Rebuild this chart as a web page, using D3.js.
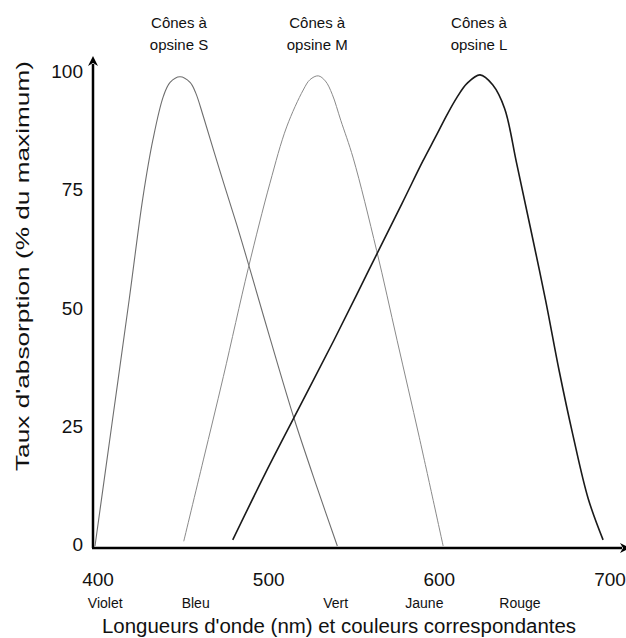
<!DOCTYPE html>
<html>
<head>
<meta charset="utf-8">
<script src="https://cdn.jsdelivr.net/npm/d3@7"></script>
<style>
  body { margin: 0; background: #fff; }
  text { font-family: "Liberation Sans", Arial, sans-serif; fill: #111; }
</style>
</head>
<body>
<svg id="chart" width="626" height="638"></svg>
<script>
// absorption curves: [wavelength nm, % of max]
var coneS = [
  [400, 0], [410, 26], [420, 52], [428, 73.5], [434, 86], [440, 95], [444, 98],
  [449.8, 99.2], [455.7, 98], [459, 95.8], [463.5, 90.8], [473, 79.5], [483, 68],
  [490, 59.5], [502.5, 44], [516.6, 27], [530, 12.5], [542, 0]
]
var coneM = [
  [452, 1], [463.5, 18.2], [475.2, 35.8], [489.8, 58.7], [502.5, 76.7], [512.3, 88.6],
  [522, 96.4], [526, 98.6], [530.8, 99.4], [535, 98.3], [539, 95.5], [544, 90],
  [551.3, 82], [565, 62.5], [577, 43.5], [590, 23], [604, 0]
]
var coneL = [
  [480.7, 1.3], [500, 15.5], [520, 29.5], [540, 43.5], [560, 58], [580, 72.5],
  [592, 81.3], [600, 86.8], [606, 91], [612, 94.8], [618, 97.8], [625.6, 99.6],
  [633, 97.5], [640, 92.5], [647, 81], [655, 67.5], [664, 52], [672, 37],
  [680, 23.5], [689, 10], [697.7, 1.3]
]

var xTicks = [400, 500, 600, 700]
var yTicks = [0, 25, 50, 75, 100]
var colourNames = ["Violet", "Bleu", "Vert", "Jaune", "Rouge"]
var colourNm = [406, 459, 541, 593, 649]
var coneNames = ["opsine S", "opsine M", "opsine L"]
var conePeaks = [449.8, 530.8, 625.6]

var svg = d3.select("#chart")

var x = d3.scaleLinear().domain([400, 700]).range([95, 607])
var y = d3.scaleLinear().domain([0, 100]).range([546, 73])

// arrow marker for the axes
svg.append("defs").append("marker")
  .attr("id", "arrow")
  .attr("viewBox", "0 0 10 10")
  .attr("refX", 2).attr("refY", 5)
  .attr("markerWidth", 4).attr("markerHeight", 4)
  .attr("orient", "auto")
  .append("path")
  .attr("d", "M0,0 L10,5 L0,10 L3,5 Z")
  .attr("fill", "#000")

// axes
svg.append("line")
  .attr("x1", 93).attr("y1", 548).attr("x2", 93).attr("y2", 64)
  .attr("stroke", "#000").attr("stroke-width", 2.5)
  .attr("marker-end", "url(#arrow)")
svg.append("line")
  .attr("x1", 92).attr("y1", 548).attr("x2", 622).attr("y2", 548)
  .attr("stroke", "#000").attr("stroke-width", 2.5)
  .attr("marker-end", "url(#arrow)")

// tick labels
svg.selectAll(".xt").data(xTicks).enter().append("text")
  .attr("x", function(d) { return x(d) + 3 })
  .attr("y", 586)
  .attr("text-anchor", "middle")
  .style("font-size", "19px")
  .text(function(d) { return d })

svg.selectAll(".yt").data(yTicks).enter().append("text")
  .attr("x", 83)
  .attr("y", function(d) { return y(d) + 5 })
  .attr("text-anchor", "end")
  .style("font-size", "19px")
  .text(function(d) { return d })

svg.selectAll(".cn").data(colourNames).enter().append("text")
  .attr("x", function(d, i) { return x(colourNm[i]) })
  .attr("y", 608)
  .attr("text-anchor", "middle")
  .style("font-size", "14px")
  .text(function(d) { return d })

// axis titles
svg.append("text")
  .attr("x", 339).attr("y", 633)
  .attr("text-anchor", "middle")
  .attr("textLength", 474).attr("lengthAdjust", "spacingAndGlyphs")
  .style("font-size", "20px")
  .text("Longueurs d'onde (nm) et couleurs correspondantes")

svg.append("text")
  .attr("transform", "translate(29,266) rotate(-90)")
  .attr("text-anchor", "middle")
  .attr("textLength", 410).attr("lengthAdjust", "spacingAndGlyphs")
  .style("font-size", "19px")
  .text("Taux d'absorption (% du maximum)")

// cone labels
coneNames.forEach(function(n, i) {
  var t = svg.append("text")
    .attr("text-anchor", "middle")
    .style("font-size", "15px")
  t.append("tspan").attr("x", x(conePeaks[i]) - 1).attr("y", 28).text("Cônes à")
  t.append("tspan").attr("x", x(conePeaks[i]) - 1).attr("y", 50).text(n)
})

// curves
var line = d3.line()
  .x(function(d) { return x(d[0]) })
  .y(function(d) { return y(d[1]) })
  .curve(d3.curveCatmullRom.alpha(0.5))

svg.append("path").datum(coneS)
  .attr("d", line).attr("fill", "none")
  .attr("stroke", "#6e6e6e").attr("stroke-width", 1.1)
svg.append("path").datum(coneM)
  .attr("d", line).attr("fill", "none")
  .attr("stroke", "#8a8a8a").attr("stroke-width", 1)
svg.append("path").datum(coneL)
  .attr("d", line).attr("fill", "none")
  .attr("stroke", "#1a1a1a").attr("stroke-width", 1.6)
</script>
</body>
</html>
